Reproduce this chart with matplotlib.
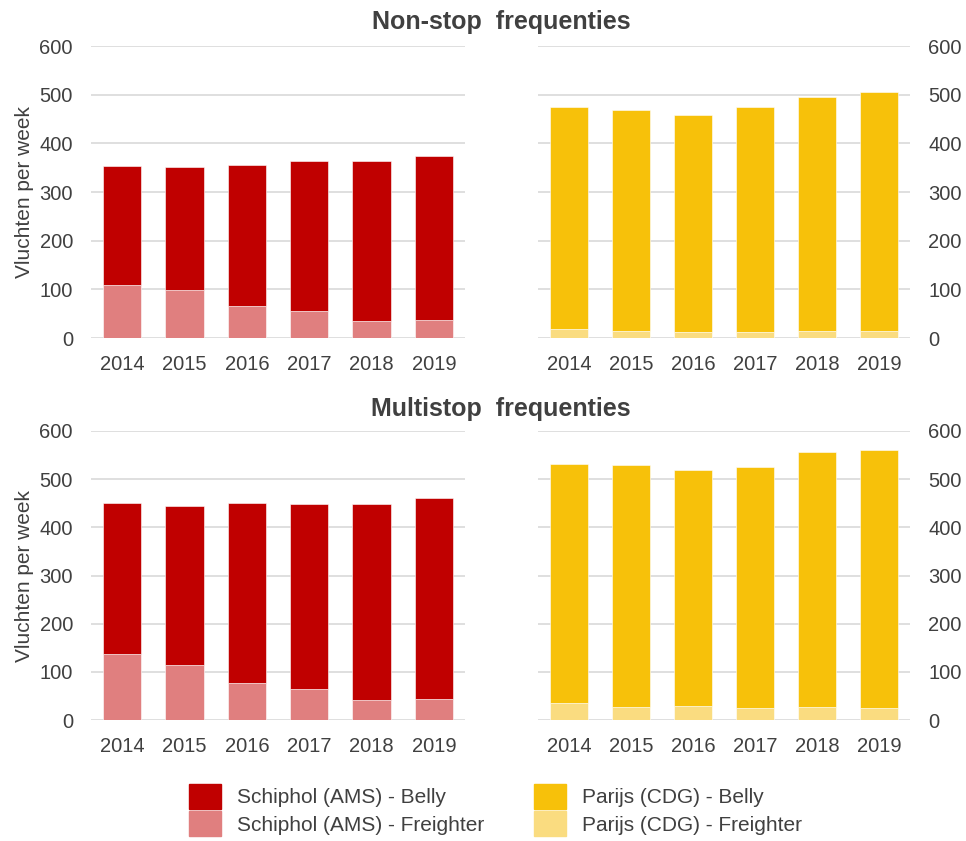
import matplotlib.pyplot as plt
from matplotlib.patches import Patch

plt.rcParams['font.family'] = ['Liberation Sans', 'DejaVu Sans']

years = ['2014', '2015', '2016', '2017', '2018', '2019']

# weekly frequencies (total = belly + freighter)
ams_nonstop_total = [354, 352, 356, 363, 363, 373]
ams_nonstop_freighter = [109, 99, 65, 56, 34, 36]
cdg_nonstop_total = [475, 469, 458, 475, 496, 505]
cdg_nonstop_freighter = [19, 14, 12, 12, 14, 14]

ams_multi_total = [451, 445, 451, 448, 448, 460]
ams_multi_freighter = [137, 115, 77, 65, 41, 43]
cdg_multi_total = [531, 530, 520, 525, 556, 561]
cdg_multi_freighter = [36, 26, 30, 25, 28, 25]

red = '#C00000'
red_light = '#E07F7F'
yellow = '#F7C10A'
yellow_light = '#FADC80'
txt = '#404040'

fig = plt.figure(figsize=(9.66, 8.41), dpi=100)

W, H = 966, 841
def ax_at(x0, y0, x1, y1):
    return fig.add_axes([x0 / W, 1 - y1 / H, (x1 - x0) / W, (y1 - y0) / H])

panels = [
    (ax_at(91, 46, 465, 338), ams_nonstop_total, ams_nonstop_freighter, red, red_light, 'left'),
    (ax_at(538, 46, 910, 338), cdg_nonstop_total, cdg_nonstop_freighter, yellow, yellow_light, 'right'),
    (ax_at(91, 431, 465, 720), ams_multi_total, ams_multi_freighter, red, red_light, 'left'),
    (ax_at(538, 431, 910, 720), cdg_multi_total, cdg_multi_freighter, yellow, yellow_light, 'right'),
]

x = range(len(years))
for ax, total, freighter, c_belly, c_freight, side in panels:
    belly = [t - f for t, f in zip(total, freighter)]
    ax.bar(x, freighter, width=0.62, color=c_freight, edgecolor='white', linewidth=0.4, zorder=2)
    ax.bar(x, belly, bottom=freighter, width=0.62, color=c_belly, edgecolor='white', linewidth=0.4, zorder=2)
    ax.set_xlim(-0.5, 5.5)
    ax.set_ylim(0, 600)
    ax.set_yticks(range(0, 601, 100))
    ax.set_xticks(list(x))
    ax.set_xticklabels(years)
    ax.grid(axis='y', color='#D9D9D9', linewidth=1.2, zorder=0)
    ax.set_axisbelow(True)
    for s in ax.spines.values():
        s.set_visible(False)
    ax.tick_params(length=0, labelsize=14.5, colors=txt)
    ax.tick_params(axis='x', pad=12)
    ax.tick_params(axis='y', pad=13)
    if side == 'right':
        ax.yaxis.tick_right()
    else:
        ax.set_ylabel('Vluchten per week', fontsize=15, color=txt, labelpad=4)

fig.text(0.5185, 1 - 22 / H, 'Non-stop  frequenties', ha='center', va='center',
         fontsize=18, fontweight='bold', color=txt)
fig.text(0.5185, 1 - 409 / H, 'Multistop  frequenties', ha='center', va='center',
         fontsize=18, fontweight='bold', color=txt)

handles = [Patch(color=red), Patch(color=red_light), Patch(color=yellow), Patch(color=yellow_light)]
labels = ['Schiphol (AMS) - Belly', 'Schiphol (AMS) - Freighter',
          'Parijs (CDG) - Belly', 'Parijs (CDG) - Freighter']
leg = fig.legend(handles, labels, ncol=2, loc='center', bbox_to_anchor=(0.513, 1 - 810 / H),
                 frameon=False, fontsize=15, handlelength=1.55, handleheight=1.5,
                 labelspacing=0.1, columnspacing=2.35, handletextpad=0.77,
                 borderpad=0)
for t in leg.get_texts():
    t.set_color(txt)

fig.savefig('out.png', dpi=100)
